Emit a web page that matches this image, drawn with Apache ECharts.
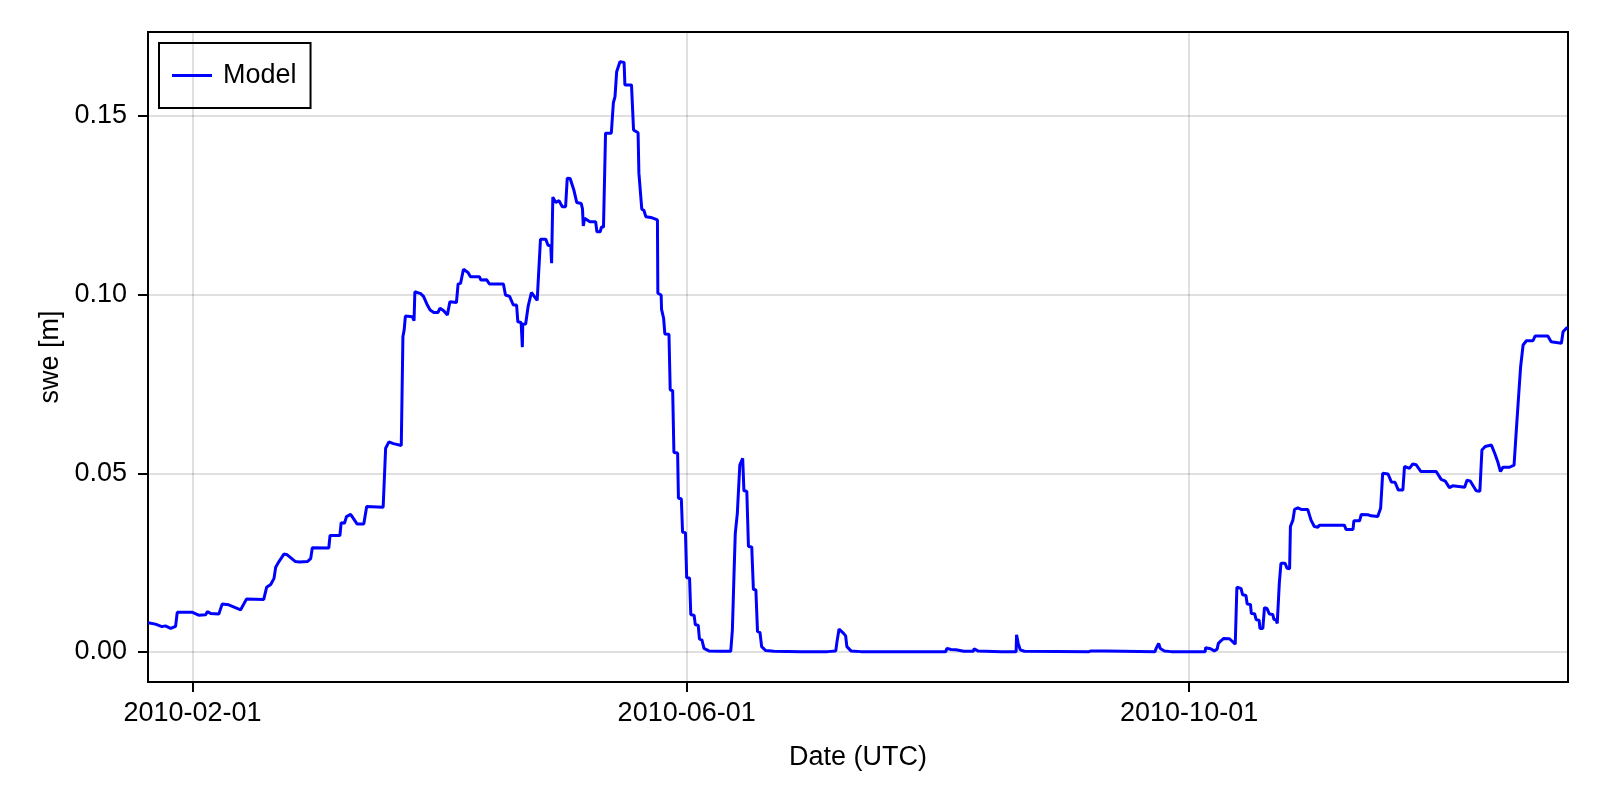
<!DOCTYPE html>
<html>
<head>
<meta charset="utf-8">
<script src="https://cdn.jsdelivr.net/npm/echarts@6/dist/echarts.min.js"></script>
<style>
html, body { margin: 0; padding: 0; background: #fff; }
#chart { width: 1600px; height: 800px; }
</style>
</head>
<body>
<div id="chart"></div>
<script>
// Day offsets (fractional days since 2010-01-01 00:00 UTC)
const days = [
  20.2, 22.0, 23.6, 24.4, 25.7, 26.9, 27.3, 31.0, 32.5, 34.2, 34.6, 35.4, 37.4, 38.2, 39.8, 42.7, 44.1, 48.3, 49.0, 50.0,
  50.8, 51.2, 52.0, 53.2, 54.0, 56.0, 57.0, 58.9, 59.7, 60.1, 64.1, 64.4, 66.8, 67.1, 67.9, 68.4, 69.4, 71.0, 72.6, 73.3,
  77.3, 77.9, 78.7, 79.8, 81.7, 82.1, 82.4, 82.7, 84.4, 84.8, 85.0, 86.4, 87.1, 87.9, 88.7, 89.6, 90.6, 91.1, 92.0, 92.9,
  93.5, 95.1, 95.5, 96.1, 96.8, 97.9, 98.5, 100.7, 101.0, 102.4, 103.1, 106.5, 107.0, 108.0, 108.9, 109.7, 110.0, 110.8, 111.1, 111.2,
  111.9, 112.5, 113.3, 114.7, 115.5, 116.8, 117.3, 118.0, 118.2, 118.5, 119.2, 120.0, 120.8, 121.6, 122.0, 122.7, 123.6, 124.3, 125.4, 125.7,
  125.9, 126.2, 127.5, 128.9, 129.2, 130.0, 130.3, 130.8, 131.3, 132.7, 133.2, 133.6, 134.0, 134.8, 135.8, 136.0, 137.6, 138.1, 139.2, 139.4,
  139.8, 140.1, 140.6, 141.1, 142.3, 143.9, 144.0, 144.8, 144.9, 145.4, 145.7, 146.7, 147.0, 147.6, 147.9, 148.8, 149.0, 149.7, 150.0, 150.7,
  151.0, 151.7, 152.0, 152.8, 153.1, 153.8, 154.1, 154.7, 155.2, 156.4, 159.3, 161.7, 162.1, 162.5, 162.8, 163.3, 163.9, 164.3, 164.6, 164.8,
  164.9, 165.6, 166.0, 166.8, 167.2, 167.8, 168.2, 168.8, 169.2, 170.2, 172.2, 178.7, 185.2, 185.3, 187.2, 187.5, 188.0, 188.4, 189.1, 189.6,
  189.9, 190.9, 193.3, 213.9, 214.2, 215.2, 216.4, 218.3, 220.6, 220.8, 221.7, 227.3, 231.0, 231.1, 231.5, 232.0, 233.0, 248.7, 249.2, 252.8,
  253.1, 264.7, 265.0, 265.6, 266.0, 267.0, 268.6, 276.9, 277.0, 278.2, 279.1, 279.8, 280.1, 280.8, 281.4, 282.8, 284.2, 284.6, 285.6, 286.0,
  286.8, 287.1, 287.9, 288.1, 288.9, 289.3, 290.0, 290.2, 290.9, 291.3, 291.9, 292.5, 293.3, 293.6, 294.1, 294.4, 294.7, 294.9, 295.3, 296.3,
  296.8, 297.4, 297.6, 298.2, 298.6, 299.4, 300.2, 301.8, 302.6, 303.4, 304.3, 304.6, 310.7, 311.1, 312.8, 313.0, 314.4, 314.8, 316.4, 317.2,
  318.8, 319.5, 320.0, 321.3, 322.1, 323.0, 323.8, 324.9, 325.3, 326.5, 327.3, 328.1, 329.3, 333.0, 334.2, 335.2, 336.2, 337.0, 337.4, 339.9,
  340.5, 341.3, 342.7, 343.6, 344.1, 344.9, 346.4, 347.2, 348.0, 348.6, 349.2, 350.8, 351.9, 352.4, 353.0, 353.5, 354.1, 354.9, 356.5, 357.0,
  360.1, 360.9, 363.4, 363.8, 364.6, 365.0
];
// Snow water equivalent (m)
const swe = [
  0.0082, 0.0078, 0.0071, 0.0073, 0.0066, 0.0072, 0.0111, 0.0111, 0.0103, 0.0104, 0.0113, 0.0108, 0.0106, 0.0134, 0.0132, 0.0118, 0.0148, 0.0147, 0.0181, 0.0189,
  0.0206, 0.0237, 0.0253, 0.0274, 0.0272, 0.0253, 0.0252, 0.0253, 0.0261, 0.0292, 0.0291, 0.0326, 0.0326, 0.0362, 0.0360, 0.0379, 0.0385, 0.0358, 0.0358, 0.0407,
  0.0405, 0.0570, 0.0588, 0.0583, 0.0578, 0.0883, 0.0901, 0.0940, 0.0938, 0.0927, 0.1008, 0.1003, 0.0995, 0.0974, 0.0957, 0.0950, 0.0950, 0.0962, 0.0955, 0.0943,
  0.0980, 0.0978, 0.1030, 0.1032, 0.1071, 0.1062, 0.1050, 0.1050, 0.1041, 0.1042, 0.1030, 0.1030, 0.0999, 0.0995, 0.0971, 0.0971, 0.0924, 0.0922, 0.0853, 0.0917,
  0.0918, 0.0967, 0.1006, 0.0984, 0.1155, 0.1155, 0.1139, 0.1136, 0.1088, 0.1273, 0.1258, 0.1263, 0.1246, 0.1246, 0.1326, 0.1325, 0.1293, 0.1258, 0.1255, 0.1240,
  0.1192, 0.1214, 0.1204, 0.1204, 0.1176, 0.1176, 0.1189, 0.1189, 0.1452, 0.1452, 0.1537, 0.1554, 0.1624, 0.1652, 0.1650, 0.1587, 0.1587, 0.1461, 0.1453, 0.1340,
  0.1340, 0.1239, 0.1236, 0.1218, 0.1216, 0.1209, 0.1004, 0.0999, 0.0959, 0.0934, 0.0890, 0.0889, 0.0733, 0.0732, 0.0558, 0.0557, 0.0430, 0.0429, 0.0335, 0.0334,
  0.0208, 0.0207, 0.0104, 0.0103, 0.0076, 0.0075, 0.0036, 0.0034, 0.0010, 0.0003, 0.0002, 0.0002, 0.0062, 0.0220, 0.0332, 0.0388, 0.0523, 0.0523, 0.0542, 0.0547,
  0.0451, 0.0450, 0.0295, 0.0294, 0.0175, 0.0174, 0.0057, 0.0055, 0.0015, 0.0004, 0.0002, 0.0001, 0.0001, 0.0003, 0.0003, 0.0029, 0.0064, 0.0069, 0.0052, 0.0045,
  0.0015, 0.0003, 0.0001, 0.0001, 0.0010, 0.0007, 0.0006, 0.0002, 0.0002, 0.0009, 0.0003, 0.0001, 0.0001, 0.0048, 0.0024, 0.0006, 0.0002, 0.0001, 0.0003, 0.0003,
  0.0001, 0.0001, 0.0010, 0.0024, 0.0010, 0.0003, 0.0001, 0.0001, 0.0012, 0.0009, 0.0003, 0.0008, 0.0024, 0.0032, 0.0038, 0.0037, 0.0022, 0.0181, 0.0178, 0.0160,
  0.0158, 0.0134, 0.0133, 0.0108, 0.0107, 0.0090, 0.0089, 0.0066, 0.0066, 0.0124, 0.0122, 0.0106, 0.0105, 0.0091, 0.0090, 0.0080, 0.0082, 0.0192, 0.0248, 0.0248,
  0.0234, 0.0233, 0.0351, 0.0369, 0.0399, 0.0403, 0.0399, 0.0399, 0.0369, 0.0351, 0.0349, 0.0355, 0.0355, 0.0343, 0.0343, 0.0367, 0.0367, 0.0385, 0.0384, 0.0381,
  0.0379, 0.0402, 0.0500, 0.0498, 0.0476, 0.0475, 0.0453, 0.0453, 0.0519, 0.0514, 0.0526, 0.0524, 0.0505, 0.0505, 0.0483, 0.0478, 0.0460, 0.0465, 0.0461, 0.0461,
  0.0481, 0.0478, 0.0451, 0.0450, 0.0565, 0.0575, 0.0579, 0.0556, 0.0530, 0.0505, 0.0517, 0.0517, 0.0523, 0.0612, 0.0715, 0.0799, 0.0859, 0.0871, 0.0871, 0.0884,
  0.0884, 0.0868, 0.0864, 0.0896, 0.0906, 0.0908
];
const seriesName = 'Model';
const xTickDates = ['2010-02-01', '2010-06-01', '2010-10-01'];
const yTicks = [0.00, 0.05, 0.10, 0.15];
const yMin = -0.0084;
const yMax = 0.1735;

const DAY = 86400000;
const T0 = Date.UTC(2010, 0, 1);
const toTs = d => T0 + d * DAY;
const data = days.map((d, i) => [toTs(d), swe[i]]);
const xTicks = xTickDates.map(s => Date.parse(s + 'T00:00:00Z'));
const pad2 = n => (n < 10 ? '0' : '') + n;
const fmtDate = v => {
  const d = new Date(v);
  return d.getUTCFullYear() + '-' + pad2(d.getUTCMonth() + 1) + '-' + pad2(d.getUTCDate());
};

const FONT = 'Liberation Sans';
const FS = 27;

const chart = echarts.init(document.getElementById('chart'), null, { renderer: 'canvas' });
chart.setOption({
  animation: false,
  backgroundColor: '#ffffff',
  textStyle: { fontFamily: FONT, color: '#000' },
  grid: {
    left: 148, right: 32, top: 32, bottom: 118,
    show: true, borderColor: '#000', borderWidth: 2, backgroundColor: 'transparent'
  },
  legend: {
    show: true,
    left: 159, top: 43,
    orient: 'vertical',
    padding: [19, 14, 19, 13],
    borderColor: '#000', borderWidth: 2, borderRadius: 0,
    itemWidth: 40, itemHeight: 14,
    textStyle: { fontFamily: FONT, fontSize: FS, color: '#000', padding: [0, 0, 0, 6] },
    data: [{ name: seriesName, icon: 'path://M0,6 L40,6 L40,9 L0,9 Z', itemStyle: { color: '#0000ff' } }]
  },
  xAxis: {
    type: 'value',
    min: toTs(days[0]),
    max: toTs(days[days.length - 1]),
    name: 'Date (UTC)',
    nameLocation: 'middle',
    nameGap: 62,
    nameTextStyle: { fontFamily: FONT, fontSize: FS, color: '#000' },
    axisLine: { show: true, onZero: false, lineStyle: { color: '#000', width: 2 } },
    axisTick: { show: true, inside: false, length: 10, lineStyle: { color: '#000', width: 2 }, customValues: xTicks },
    axisLabel: { show: true, margin: 18, fontFamily: FONT, fontSize: FS, color: '#000', customValues: xTicks, formatter: v => fmtDate(v), hideOverlap: false },
    splitLine: { show: true, lineStyle: { color: 'rgba(0,0,0,0.12)', width: 2 } },
    minorTick: { show: false }
  },
  yAxis: {
    type: 'value',
    min: yMin,
    max: yMax,
    name: 'swe [m]',
    nameLocation: 'middle',
    nameGap: 82,
    nameTextStyle: { fontFamily: FONT, fontSize: FS, color: '#000' },
    axisLine: { show: true, onZero: false, lineStyle: { color: '#000', width: 2 } },
    axisTick: { show: true, inside: false, length: 10, lineStyle: { color: '#000', width: 2 }, customValues: yTicks },
    axisLabel: { show: true, margin: 21, fontFamily: FONT, fontSize: FS, color: '#000', customValues: yTicks, formatter: v => v.toFixed(2) },
    splitLine: { show: true, lineStyle: { color: 'rgba(0,0,0,0.12)', width: 2 } }
  },
  series: [{
    name: seriesName,
    type: 'line',
    data: data,
    symbol: 'none',
    showSymbol: false,
    lineStyle: { color: '#0000ff', width: 3 },
    itemStyle: { color: '#0000ff' },
    clip: true
  }]
});
</script>
</body>
</html>
